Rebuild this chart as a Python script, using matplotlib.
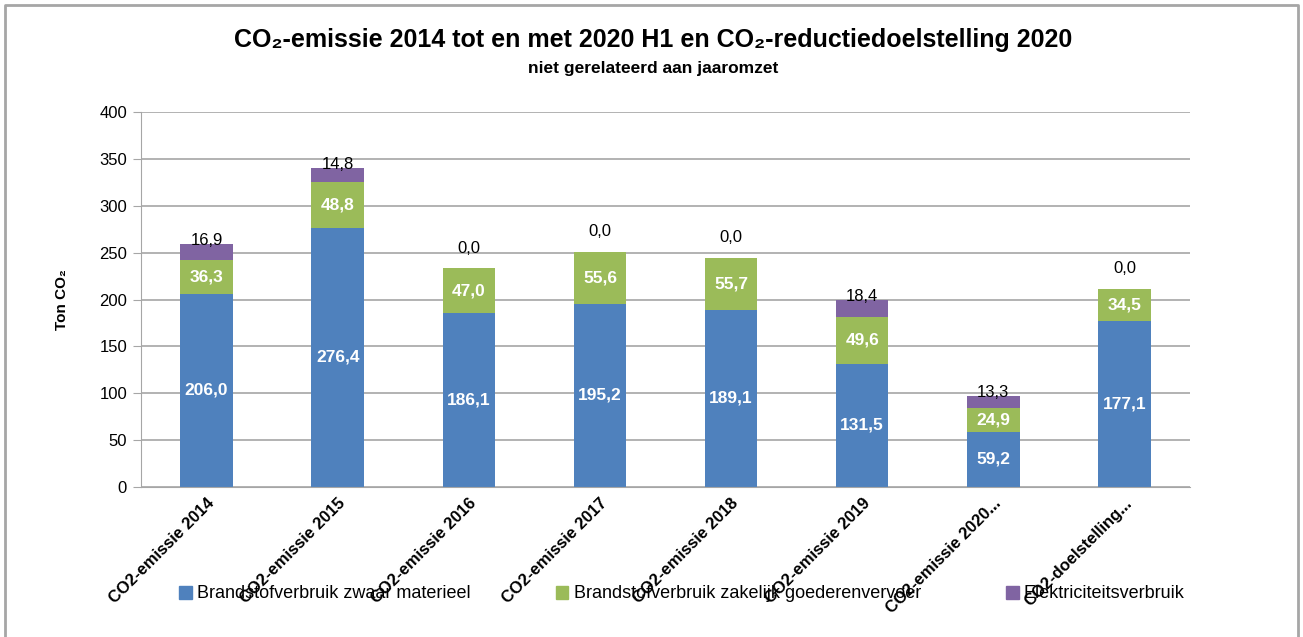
import numpy as np
import matplotlib.pyplot as plt
from matplotlib.lines import Line2D

plt.rcParams['font.family'] = ['Liberation Sans', 'DejaVu Sans']

# data
categories = ['CO2-emissie 2014', 'CO2-emissie 2015', 'CO2-emissie 2016', 'CO2-emissie 2017',
              'CO2-emissie 2018', 'CO2-emissie 2019', 'CO2-emissie 2020...', 'CO2-doelstelling...']
zwaar = [206.0, 276.4, 186.1, 195.2, 189.1, 131.5, 59.2, 177.1]
goederen = [36.3, 48.8, 47.0, 55.6, 55.7, 49.6, 24.9, 34.5]
elektra = [16.9, 14.8, 0.0, 0.0, 0.0, 18.4, 13.3, 0.0]
series_names = ['Brandstofverbruik zwaar materieel', 'Brandstofverbruik zakelijk goederenvervoer',
                'Elektriciteitsverbruik']
colors = ['#4F81BD', '#9BBB59', '#8064A2']

W, H = 1303, 637
fig = plt.figure(figsize=(W / 100, H / 100), dpi=100)
ax = fig.add_axes([141 / W, 1 - 487 / H, (1190 - 141) / W, (487 - 112) / H])

x = np.arange(len(categories))
b1 = np.array(zwaar)
b2 = np.array(goederen)
b3 = np.array(elektra)
ax.bar(x, b1, 0.4, color=colors[0], zorder=2)
ax.bar(x, b2, 0.4, bottom=b1, color=colors[1], zorder=2)
ax.bar(x, b3, 0.4, bottom=b1 + b2, color=colors[2], zorder=2)

def fmt(v):
    return ('%.1f' % v).replace('.', ',')

for i in range(len(x)):
    ax.text(x[i], b1[i] / 2, fmt(b1[i]), ha='center', va='center', color='white',
            fontsize=12.5, fontweight='bold', zorder=3)
    ax.text(x[i], b1[i] + b2[i] / 2, fmt(b2[i]), ha='center', va='center', color='white',
            fontsize=12.5, fontweight='bold', zorder=3)
    top = b1[i] + b2[i] + b3[i]
    off = -3 if b3[i] > 0 else 9
    ax.annotate(fmt(b3[i]), (x[i], top), xytext=(0, off), textcoords='offset points',
                ha='center', va='bottom', fontsize=12, color='black', zorder=3)

ax.set_xlim(-0.5, len(x) - 0.5)
ax.set_ylim(0, 400)
ax.set_yticks(np.arange(0, 401, 50))
ax.yaxis.grid(True, color='#A6A6A6', linewidth=1.2, zorder=0)
ax.set_axisbelow(True)
for s in ['top', 'right']:
    ax.spines[s].set_visible(False)
ax.spines['left'].set_color('#A6A6A6')
ax.spines['bottom'].set_color('#A6A6A6')
ax.tick_params(axis='y', length=6, color='#A6A6A6', labelsize=12, pad=4)
ax.tick_params(axis='x', length=0, pad=6)
ax.set_xticks(x)
ax.set_xticklabels(categories, rotation=45, ha='right', rotation_mode='anchor',
                   fontsize=12, fontweight='bold')
ax.set_ylabel('Ton CO₂', fontsize=11, fontweight='bold', labelpad=22)

fig.text(0.5 + 2 / W, 1 - 40 / H, 'CO₂-emissie 2014 tot en met 2020 H1 en CO₂-reductiedoelstelling 2020',
         ha='center', va='center', fontsize=18, fontweight='bold')
fig.text(0.5 + 2 / W, 1 - 69 / H, 'niet gerelateerd aan jaaromzet',
         ha='center', va='center', fontsize=12.5, fontweight='bold')

handles = [plt.Rectangle((0, 0), 1, 1, color=c) for c in colors]
leg = fig.legend(handles, series_names, loc='center', bbox_to_anchor=(682 / W, 1 - 594 / H),
                 ncol=3, frameon=False, fontsize=13, handlelength=0.7, handleheight=0.7,
                 handletextpad=0.3, columnspacing=4.7)
leg.set_zorder(5)

# outer chart border
fig.add_artist(Line2D([5 / W, 5 / W, 1298 / W, 1298 / W], [0, 1 - 5 / H, 1 - 5 / H, 0],
                      color='#A6A6A6', linewidth=2, transform=fig.transFigure))

fig.savefig('out.png', dpi=100)
